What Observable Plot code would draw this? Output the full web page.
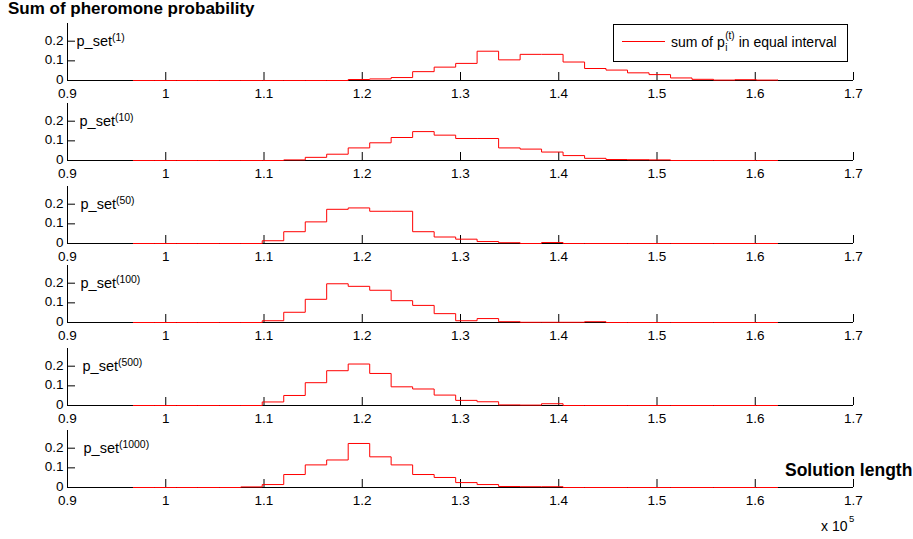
<!DOCTYPE html>
<html><head><meta charset="utf-8">
<script src="https://cdn.jsdelivr.net/npm/d3@7"></script>
<script src="https://cdn.jsdelivr.net/npm/@observablehq/plot@0.6"></script>
<style>
body{margin:0;background:#fff;}
#wrap{position:relative;width:913px;height:539px;overflow:hidden;background:#fff;}
#wrap svg{position:absolute;left:0;}
</style></head><body><div id="wrap"></div>
<script>
const FONT = '"Liberation Sans", Arial, Helvetica, sans-serif';

// bin edges (x 10^5) of the 30 equal intervals
const edges = [0.9670,0.9889,1.0107,1.0326,1.0545,1.0764,1.0982,1.1201,1.1420,1.1638,
  1.1857,1.2076,1.2294,1.2513,1.2732,1.2951,1.3169,1.3388,1.3607,1.3825,
  1.4044,1.4263,1.4481,1.4700,1.4919,1.5138,1.5356,1.5575,1.5794,1.6012,1.6231];

const generations = ["1","10","50","100","500","1000"];

const pset1 = [0,0,0,0,0,0,0,0,0,0, 0.005,0.008,0.015,0.045,0.068,0.087,0.149,0.105,0.133,0.133,
  0.094,0.061,0.053,0.039,0.030,0.013,0.006,0.002,0.004,0.002];
const pset10 = [0,0,0,0,0,0,0,0.003,0.016,0.032, 0.064,0.090,0.117,0.147,0.129,0.112,0.112,0.064,0.058,0.043,
  0.025,0.011,0.005,0.004,0.003,0,0,0,0,0];
const pset50 = [0,0,0,0,0,0,0.014,0.060,0.110,0.174, 0.181,0.164,0.164,0.060,0.033,0.022,0.010,0.004,0,0.005,
  0,0,0,0,0,0,0,0,0,0];
const pset100 = [0,0,0,0,0,0,0.009,0.052,0.118,0.197, 0.184,0.164,0.111,0.087,0.045,0.009,0.020,0.004,0.001,0.001,
  0.001,0.004,0,0,0,0,0,0,0,0];
const pset500 = [0,0,0,0,0,0,0.018,0.051,0.116,0.177, 0.211,0.163,0.095,0.084,0.053,0.026,0.019,0.003,0.002,0.009,
  0,0,0,0,0,0,0,0,0,0];
const pset1000 = [0,0,0,0,0,0.003,0.015,0.066,0.115,0.140, 0.224,0.156,0.115,0.066,0.051,0.025,0.015,0.005,0.004,0.004,
  0,0,0,0,0,0,0,0,0,0];

const seriesValues = [pset1, pset10, pset50, pset100, pset500, pset1000];
const xTicks = [0.9,1,1.1,1.2,1.3,1.4,1.5,1.6,1.7];
const yTicks = [0,0.1,0.2];

// layout
const W = 913, ML = 67, MR = 60, H = 57, MT = 2, MB = 26;
const axisBottoms = [80,160,243,322,405,487];
const labelDx = [9,12,13,13,15,16];

const wrap = document.getElementById("wrap");

seriesValues.forEach((vals, i) => {
  const pts = vals.map((v, k) => ({x: edges[k], y: v}));
  pts.push({x: edges[edges.length - 1], y: vals[vals.length - 1]});
  const plot = Plot.plot({
    width: W, height: MT + H + MB,
    marginLeft: ML, marginRight: MR, marginTop: MT, marginBottom: MB,
    style: {background: "transparent", fontFamily: FONT, fontSize: "13.5px", color: "#000", overflow: "visible"},
    x: {domain: [0.9, 1.7], label: null},
    y: {domain: [0, 0.29], label: null},
    marks: [
      Plot.ruleX(xTicks, {stroke: "#000", insetTop: H - 8}),
      Plot.ruleY(yTicks, {stroke: "#000", insetRight: (W - ML - MR) - 8}),
      Plot.ruleY([0], {stroke: "#000"}),
      Plot.ruleX([0.9], {stroke: "#000"}),
      Plot.axisX({ticks: xTicks, tickSize: 0, tickPadding: 8, tickFormat: d => String(d), label: null, fontSize: 13.5}),
      Plot.axisY({ticks: yTicks, tickSize: 0, tickPadding: 4, tickFormat: d => String(d), label: null, fontSize: 13.5, dy: -1}),
      Plot.line(pts, {x: "x", y: "y", curve: "step-after", stroke: "#ff0000", strokeWidth: 1}),
      Plot.text([{x: 0.9, y: 0.2, label: "p_set"}], {x: "x", y: "y", text: "label", dx: labelDx[i], textAnchor: "start", fontSize: 14.5, fill: "#000"})
    ]
  });
  plot.style.position = "absolute";
  plot.style.top = (axisBottoms[i] - H - MT) + "px";
  wrap.appendChild(plot);
  d3.select(plot).selectAll('g[aria-label="text"] text')
    .append("tspan").attr("dy", "-0.5em").attr("font-size", "0.72em").text(`(${generations[i]})`);
});

// overlay: title, axis label, exponent, legend
const ov = d3.select(wrap).append("svg")
  .attr("width", W).attr("height", 539)
  .style("position", "absolute").style("left", 0).style("top", 0)
  .attr("font-family", FONT);

ov.append("text").attr("x", 8).attr("y", 14).attr("font-size", 17).attr("font-weight", "bold")
  .text("Sum of pheromone probability");
ov.append("text").attr("x", 785).attr("y", 475.5).attr("font-size", 17.5).attr("font-weight", "bold")
  .text("Solution length");
ov.append("text").attr("x", 821).attr("y", 531).attr("font-size", 14).text("x 10");
ov.append("text").attr("x", 849).attr("y", 521.5).attr("font-size", 9.5).text("5");

// legend
ov.append("rect").attr("x", 613.5).attr("y", 24.5).attr("width", 234).attr("height", 37)
  .attr("fill", "#fff").attr("stroke", "#000");
ov.append("line").attr("x1", 622).attr("x2", 665).attr("y1", 41.5).attr("y2", 41.5)
  .attr("stroke", "#ff0000").attr("stroke-width", 1);
const t1 = ov.append("text").attr("x", 671).attr("y", 46.5).attr("font-size", 14).text("sum of p");
const w1 = t1.node().getComputedTextLength();
const sx = 671 + w1 + 0.5;
const sup = ov.append("text").attr("x", sx).attr("y", 39).attr("font-size", 10).text("(t)");
ov.append("text").attr("x", sx).attr("y", 51).attr("font-size", 10).text("i");
const w2 = sup.node().getComputedTextLength();
ov.append("text").attr("x", sx + w2 + 4).attr("y", 46.5).attr("font-size", 14).text("in equal interval");
</script></body></html>
